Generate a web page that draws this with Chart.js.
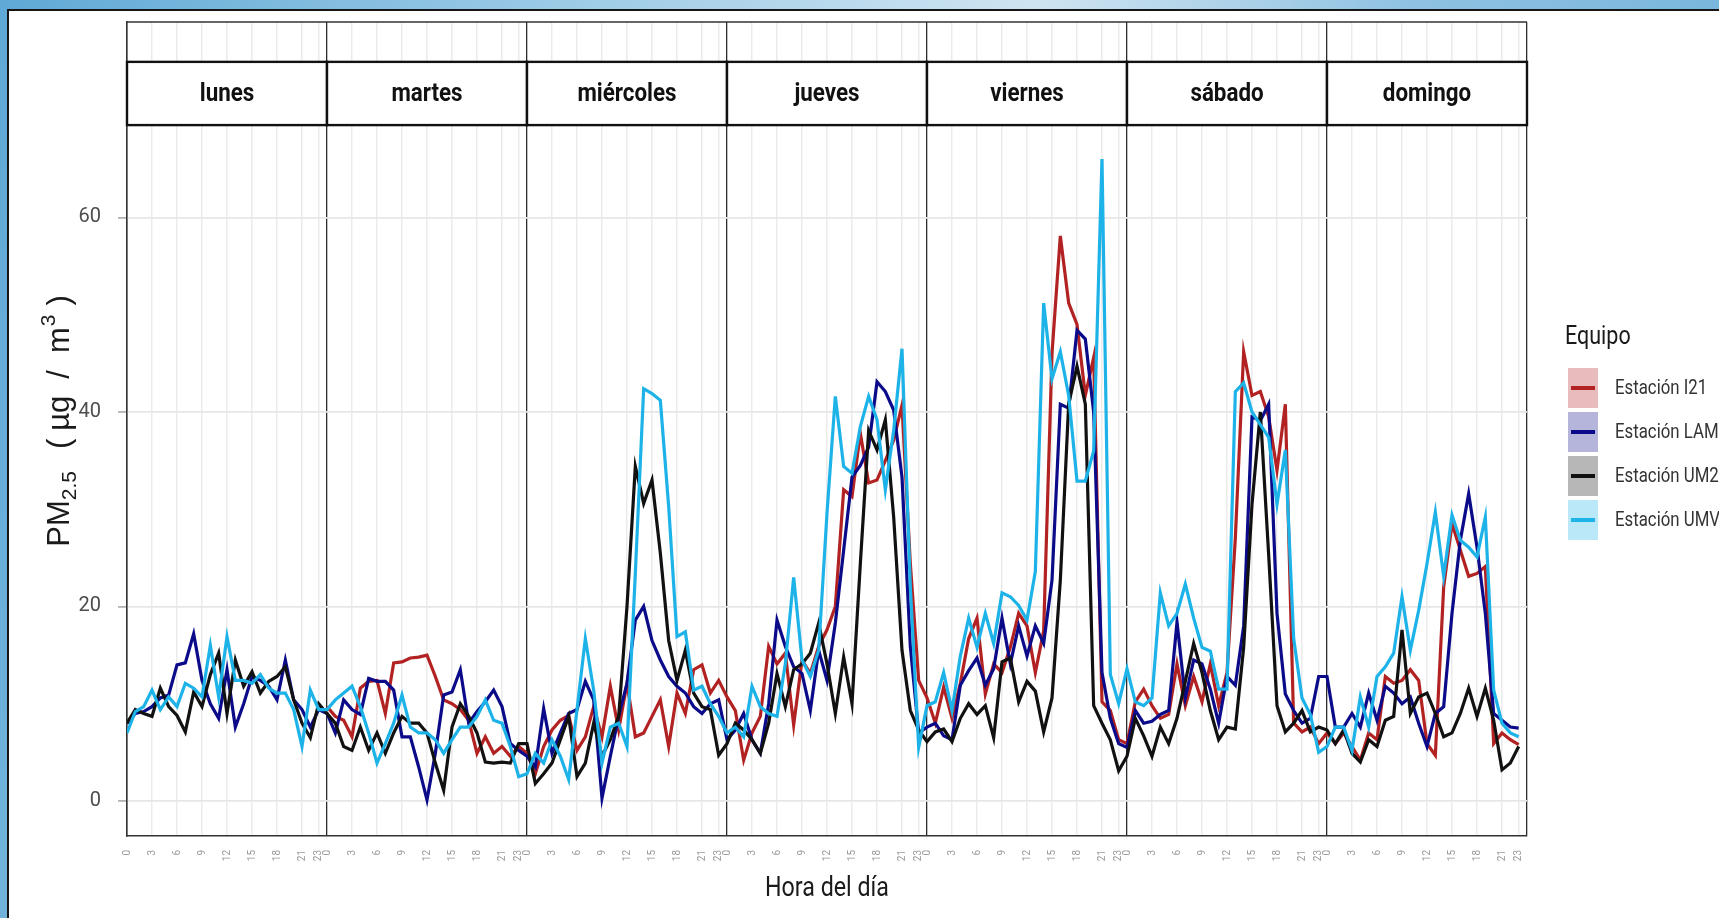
<!DOCTYPE html>
<html>
<head>
<meta charset="utf-8">
<script src="https://cdn.jsdelivr.net/npm/chart.js@4.4.1/dist/chart.umd.min.js"></script>
<style>
  html, body { margin: 0; padding: 0; }
  body {
    width: 1719px; height: 918px; overflow: hidden; position: relative;
    background: linear-gradient(100deg, #5fa9d6 0%, #9ccbe6 30%, #cfe4f1 55%, #8fc2e2 75%, #6fb0da 100%);
  }
  #frame {
    position: absolute; left: 7px; top: 9px; width: 1730px; height: 930px;
    background: #fff; border: 2px solid #161616;
  }
  #wrap { position: absolute; left: 0; top: 0; width: 1719px; height: 918px; }
</style>
</head>
<body>
<div id="frame"></div>
<div id="wrap"><canvas id="canvas" width="1719" height="918"></canvas></div>
<script>
const days = ['lunes', 'martes', 'miércoles', 'jueves', 'viernes', 'sábado', 'domingo'];
const hourTicks = [0, 3, 6, 9, 12, 15, 18, 21, 23];
const yTicks = [0, 20, 40, 60];
const stations = ['Estación I21', 'Estación LAM', 'Estación UM2', 'Estación UMV'];
const colors = ['#b22222', '#0b0b8a', '#111111', '#1db3e8'];

// hourly means, 24 values per day, lunes..domingo
const i21 = [
  null, null, null, null, null, null, null, null, null, null, null, null, null, null, null, null, null, null, null, null, null, null, null, null,
  9.7, 8.7, 8.3, 6.6, 11.6, 12.3, 12.4, 9.0, 14.2, 14.3, 14.7, 14.8, 15.0, 12.8, 10.4, 10.0, 9.4, 8.3, 4.9, 6.6, 4.9, 5.6, 4.6, 5.6,
  4.9, 2.8, 5.6, 7.3, 8.3, 8.8, 5.2, 6.6, 9.7, 6.6, 11.8, 7.3, 12.1, 6.6, 7.0, 8.7, 10.4, 5.6, 11.1, 9.0, 13.5, 14.0, 11.1, 12.4,
  10.7, 9.3, 4.2, 7.0, 8.7, 15.9, 14.1, 15.2, 7.8, 14.5, 13.1, 15.9, 17.6, 20.0, 32.0, 31.3, 37.8, 32.7, 33.0, 35.0, 37.1, 40.7, 24.4, 12.4,
  10.6, 8.0, 11.7, 8.5, 12.1, 16.7, 18.8, 11.0, 14.1, 13.2, 15.8, 19.3, 18.0, 13.2, 17.5, 46.0, 58.1, 51.2, 49.0, 41.7, 45.6, 10.2, 9.3, 6.3,
  5.9, 10.2, 11.5, 9.8, 8.5, 8.9, 14.1, 9.8, 12.8, 10.2, 14.1, 9.8, 13.2, 27.0, 46.2, 41.7, 42.1, 39.5, 34.0, 40.8, 8.0, 7.1, 7.6, 5.9,
  7.0, 5.9, 7.0, 5.6, 4.2, 7.0, 6.3, 12.8, 12.1, 12.4, 13.5, 12.4, 5.9, 4.7, 22.0, 28.5, 25.8, 23.1, 23.4, 24.1, 5.9, 7.0, 6.3, 5.8
];
const lam = [
  8.0, 9.0, 9.2, 9.7, 10.6, 10.9, 14.0, 14.2, 17.2, 12.4, 10.0, 8.5, 13.5, 7.6, 10.0, 12.8, 12.4, 11.8, 10.4, 14.5, 10.4, 9.4, 7.6, 9.4,
  9.0, 7.0, 10.4, 9.4, 8.9, 12.6, 12.3, 12.3, 11.4, 6.6, 6.6, 3.5, 0.1, 4.9, 10.9, 11.2, 13.5, 8.0, 9.2, 10.2, 11.4, 9.7, 5.9, 5.2,
  4.6, 3.5, 9.5, 4.9, 7.0, 9.0, 9.4, 12.3, 10.4, 0.3, 4.6, 8.7, 12.1, 18.6, 20.0, 16.5, 14.5, 12.8, 11.8, 11.1, 9.7, 9.0, 10.0, 10.4,
  6.3, 7.3, 9.0, 6.3, 4.9, 10.0, 18.6, 15.9, 13.8, 13.1, 9.3, 15.5, 12.4, 18.3, 25.8, 33.3, 34.5, 36.4, 43.1, 42.1, 40.2, 33.3, 15.9, 7.0,
  7.6, 8.0, 6.7, 6.3, 11.9, 13.4, 14.7, 11.9, 13.6, 18.8, 14.1, 18.0, 14.9, 18.0, 16.2, 22.7, 40.8, 40.4, 48.4, 47.5, 40.0, 13.2, 8.5, 5.9,
  5.5, 9.3, 8.0, 8.2, 8.9, 9.3, 18.4, 10.6, 14.5, 14.1, 11.5, 8.0, 12.8, 11.9, 18.0, 39.5, 39.1, 40.8, 19.3, 11.0, 9.3, 8.0, 8.5, 12.8,
  12.8, 7.6, 7.6, 9.0, 7.6, 11.1, 8.3, 11.8, 11.1, 10.0, 10.7, 8.0, 5.6, 9.0, 9.7, 19.3, 26.8, 31.6, 26.1, 19.3, 9.0, 8.3, 7.6, 7.5
];
const um2 = [
  8.0, 9.4, 9.0, 8.7, 11.6, 9.7, 8.8, 7.1, 11.2, 9.7, 13.0, 15.2, 9.0, 14.5, 11.8, 13.3, 11.1, 12.3, 12.8, 13.8, 10.4, 8.0, 6.5, 10.0,
  9.0, 8.0, 5.6, 5.2, 7.6, 5.2, 7.0, 4.9, 7.0, 8.7, 8.0, 8.0, 7.0, 3.9, 1.1, 7.6, 10.0, 8.7, 7.0, 4.0, 3.9, 4.0, 3.9, 5.9,
  5.9, 1.8, 2.8, 3.9, 6.3, 8.7, 2.5, 3.9, 8.0, 4.6, 6.3, 8.7, 20.0, 34.4, 30.6, 33.0, 25.5, 16.5, 12.4, 15.5, 11.1, 9.7, 9.4, 4.7,
  5.9, 8.0, 7.3, 6.3, 4.9, 8.0, 13.1, 9.7, 13.5, 14.1, 15.2, 18.3, 14.1, 9.0, 14.8, 10.0, 24.4, 38.1, 36.1, 39.2, 29.2, 15.5, 9.3, 7.3,
  6.1, 7.1, 7.4, 6.1, 8.5, 10.0, 8.9, 9.8, 6.5, 14.3, 14.7, 10.2, 12.3, 11.3, 7.1, 10.6, 22.7, 40.8, 44.7, 40.8, 9.8, 8.0, 6.3, 3.1,
  4.6, 8.5, 6.7, 4.6, 7.6, 5.9, 8.5, 12.3, 16.2, 13.2, 9.3, 6.3, 7.6, 7.4, 15.8, 30.5, 40.0, 25.3, 9.8, 7.1, 8.0, 9.3, 7.1, 7.6,
  7.3, 5.9, 7.3, 4.9, 4.0, 6.3, 5.6, 8.3, 8.7, 17.6, 9.0, 10.7, 11.1, 9.0, 6.6, 7.0, 9.0, 11.6, 8.7, 11.6, 8.3, 3.2, 3.9, 5.6
];
const umv = [
  7.0, 9.2, 9.7, 11.4, 9.4, 10.7, 9.7, 12.1, 11.6, 10.7, 16.0, 10.7, 16.9, 12.4, 12.4, 12.1, 13.0, 11.6, 11.1, 11.1, 9.4, 5.6, 11.4, 9.4,
  9.4, 10.4, 11.1, 11.8, 9.7, 7.0, 3.9, 5.9, 8.0, 10.9, 7.6, 7.0, 7.0, 6.3, 4.9, 6.3, 7.6, 7.6, 8.7, 10.4, 8.3, 8.0, 5.6, 2.5,
  2.8, 4.9, 3.9, 6.3, 4.6, 2.2, 9.4, 16.7, 11.4, 3.9, 7.6, 8.0, 5.6, 23.4, 42.4, 41.9, 41.2, 30.3, 16.9, 17.4, 11.4, 11.8, 10.0, 8.7,
  7.0, 7.6, 6.6, 11.8, 9.7, 9.0, 8.7, 14.1, 23.0, 14.5, 12.8, 15.5, 29.6, 41.6, 34.4, 33.7, 38.5, 41.6, 39.2, 32.0, 38.1, 46.5, 22.0, 5.5,
  9.8, 10.2, 13.2, 9.3, 14.9, 18.8, 15.8, 19.3, 16.2, 21.4, 21.0, 20.1, 18.6, 23.6, 51.2, 43.4, 46.2, 41.7, 32.9, 32.9, 36.0, 66.0, 13.0, 10.0,
  13.6, 10.2, 9.8, 10.6, 21.4, 18.0, 19.3, 22.3, 18.8, 15.8, 15.4, 11.5, 11.5, 42.1, 43.0, 40.0, 38.7, 37.4, 30.5, 36.1, 16.7, 10.6, 8.9, 5.0,
  5.6, 7.6, 7.6, 5.2, 10.7, 7.6, 12.8, 13.8, 15.2, 21.0, 15.5, 19.6, 24.4, 29.7, 23.1, 29.4, 26.8, 26.1, 25.1, 29.2, 11.4, 8.0, 7.0, 6.6
];

const narrow = '"Liberation Sans Narrow", "Arial Narrow", "Roboto", sans-serif';
const stripTop = 76;     // strip band, in y units (above data)
const stripBottom = 69.5;

function toPoints(arr) {
  return arr.map((v, i) => ({ x: i, y: v }));
}

function hexAlpha(hex, a) {
  const n = parseInt(hex.slice(1), 16);
  return `rgba(${n >> 16}, ${(n >> 8) & 255}, ${n & 255}, ${a})`;
}

// draw text squeezed horizontally, like a condensed face
function squeezed(c, text, x, y, sx) {
  c.save();
  c.translate(x, y);
  c.scale(sx, 1);
  c.fillText(text, 0, 0);
  c.restore();
}

const facetPlugin = {
  id: 'facets',
  afterDraw(chart) {
    const c = chart.ctx;
    const xs = chart.scales.x, ys = chart.scales.y;
    const area = chart.chartArea;
    c.save();
    // top border of panel
    c.strokeStyle = '#333';
    c.lineWidth = 1.5;
    c.beginPath();
    c.moveTo(area.left, area.top);
    c.lineTo(area.right, area.top);
    c.stroke();

    // strips
    const sy0 = ys.getPixelForValue(stripTop), sy1 = ys.getPixelForValue(stripBottom);
    days.forEach((d, i) => {
      const x0 = xs.getPixelForValue(i * 24), x1 = xs.getPixelForValue(i * 24 + 24);
      c.fillStyle = '#fff';
      c.fillRect(x0, sy0, x1 - x0, sy1 - sy0);
      c.strokeStyle = '#111';
      c.lineWidth = 2.4;
      c.strokeRect(x0, sy0, x1 - x0, sy1 - sy0);
      c.fillStyle = '#111';
      c.font = 'bold 26px ' + narrow;
      c.textAlign = 'center';
      c.textBaseline = 'middle';
      squeezed(c, d, (x0 + x1) / 2, (sy0 + sy1) / 2 + 1, 0.86);
    });

    // x title
    c.fillStyle = '#1a1a1a';
    c.font = '27px ' + narrow;
    c.textAlign = 'center';
    c.textBaseline = 'middle';
    squeezed(c, 'Hora del día', (area.left + area.right) / 2, area.bottom + 53, 0.86);

    // y title with sub/superscript
    const serif = '"Liberation Sans", Arial, sans-serif';
    const parts = [
      { t: 'PM', f: 31, dy: 0, gap: 0 },
      { t: '2.5', f: 21, dy: 7, gap: 22 },
      { t: '(', f: 31, dy: 0, gap: 8 },
      { t: 'µg', f: 31, dy: 0, gap: 17 },
      { t: '/', f: 31, dy: 0, gap: 17 },
      { t: 'm', f: 31, dy: 0, gap: 1 },
      { t: '3', f: 21, dy: -14, gap: 9 },
      { t: ')', f: 31, dy: 0, gap: 0 }
    ];
    let total = 0;
    parts.forEach(p => { c.font = p.f + 'px ' + serif; p.w = c.measureText(p.t).width; total += p.w + p.gap; });
    c.translate(area.left - 58, (area.top + area.bottom) / 2 - 8);
    c.rotate(-Math.PI / 2);
    c.textAlign = 'left';
    c.textBaseline = 'alphabetic';
    c.fillStyle = '#1a1a1a';
    let px = -total / 2;
    parts.forEach(p => {
      c.font = p.f + 'px ' + serif;
      c.fillText(p.t, px, p.dy);
      px += p.w + p.gap;
    });
    c.restore();

    // legend
    c.save();
    const lx = area.right + 38;
    c.fillStyle = '#1a1a1a';
    c.font = '25px ' + narrow;
    c.textAlign = 'left';
    c.textBaseline = 'middle';
    squeezed(c, 'Equipo', lx, 338, 0.86);
    chart.data.datasets.forEach((ds, i) => {
      const cy = 388 + i * 44;
      c.fillStyle = hexAlpha(ds.borderColor, 0.3);
      c.fillRect(lx + 3, cy - 20, 30, 40);
      c.strokeStyle = ds.borderColor;
      c.lineWidth = 4;
      c.beginPath();
      c.moveTo(lx + 6, cy);
      c.lineTo(lx + 30, cy);
      c.stroke();
      c.fillStyle = '#333';
      c.font = '21px ' + narrow;
      squeezed(c, ds.label, lx + 50, cy + 1, 0.8);
    });
    c.restore();
  }
};

const datasets = [i21, lam, um2, umv].map((arr, i) => ({
  label: stations[i],
  data: toPoints(arr),
  borderColor: colors[i],
  backgroundColor: colors[i],
  borderWidth: 3.2,
  pointRadius: 0,
  tension: 0,
  spanGaps: false,
  order: 3 - i
}));

const ctx = document.getElementById('canvas').getContext('2d');
const myChart = new Chart(ctx, {
  type: 'line',
  data: { datasets: datasets },
  plugins: [facetPlugin],
  options: {
    responsive: false,
    animation: false,
    devicePixelRatio: 1,
    layout: { padding: { top: 22, right: 192, left: 0, bottom: 0 } },
    plugins: {
      legend: { display: false },
      tooltip: { enabled: false }
    },
    scales: {
      x: {
        type: 'linear',
        min: 0,
        max: days.length * 24,
        afterBuildTicks(scale) {
          const t = [];
          days.forEach((d, i) => hourTicks.forEach(h => t.push({ value: i * 24 + h })));
          t.push({ value: days.length * 24 });
          scale.ticks = t;
        },
        afterFit(scale) { scale.height = 82; scale.paddingLeft = 0; scale.paddingRight = 0; },
        ticks: {
          autoSkip: false,
          minRotation: 90,
          maxRotation: 90,
          padding: 14,
          color: '#999999',
          font: { size: 10, family: narrow },
          callback: (v) => v === days.length * 24 ? '' : v % 24
        },
        grid: {
          drawTicks: false,
          color: (c) => c.tick && c.tick.value % 24 === 0 ? '#2b2b2b' : '#ebebeb',
          lineWidth: (c) => c.tick && c.tick.value % 24 === 0 ? 1.3 : 1.5
        },
        border: { display: true, color: '#333', width: 1.5 }
      },
      y: {
        min: -3.6,
        max: 80.1,
        afterBuildTicks(scale) { scale.ticks = yTicks.map(v => ({ value: v })); },
        afterFit(scale) { scale.width = 127; scale.paddingTop = 0; scale.paddingBottom = 0; },
        ticks: {
          padding: 17,
          color: '#4d4d4d',
          font: { size: 20, family: narrow }
        },
        grid: {
          color: '#e6e6e6',
          lineWidth: 1.8,
          tickLength: 9,
          tickColor: '#b3b3b3'
        },
        border: { display: true, color: '#333', width: 1.5 }
      }
    }
  }
});
</script>
</body>
</html>
